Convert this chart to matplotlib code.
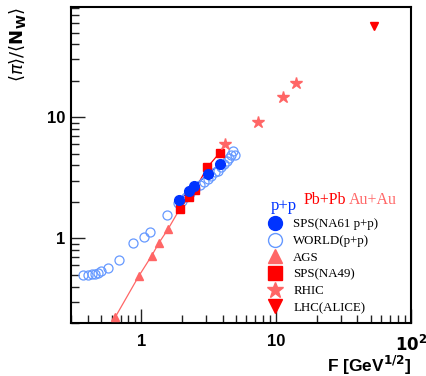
import matplotlib
matplotlib.use('Agg')
import matplotlib.pyplot as plt
from matplotlib.lines import Line2D
import matplotlib.ticker as ticker
from matplotlib.font_manager import FontProperties

# data: F [GeV^1/2] and <pi>/<N_W>
na61_F = [1.91, 2.24, 2.46, 3.11, 3.82]
na61_y = [2.06, 2.44, 2.70, 3.38, 4.14]

world_F = [0.371, 0.399, 0.427, 0.453, 0.479, 0.504, 0.565, 0.678, 0.862, 1.05, 1.15, 1.54,
           1.85, 2.0, 2.15, 2.3, 2.5, 2.7, 2.9, 3.1, 3.3, 3.5, 3.7, 3.9, 4.1, 4.3, 4.45, 4.6, 4.75, 4.9]
world_y = [0.50, 0.50, 0.504, 0.505, 0.517, 0.54, 0.568, 0.662, 0.91, 1.03, 1.13, 1.56,
           1.95, 2.05, 2.2, 2.35, 2.55, 2.75, 2.9, 3.1, 3.3, 3.5, 3.6, 3.85, 4.1, 4.35, 4.6, 4.9, 5.3, 4.85]

ags_F = [0.641, 0.955, 1.19, 1.35, 1.58]
ags_y = [0.225, 0.488, 0.718, 0.92, 1.20]

na49_F = [1.93, 2.25, 2.48, 3.08, 3.82]
na49_y = [1.76, 2.19, 2.50, 3.86, 5.11]

rhic_F = [4.14, 7.32, 11.2, 14.0]
rhic_y = [6.0, 9.15, 14.6, 19.0]

lhc_F = [52.8]
lhc_y = [56.9]

blue = '#0033ff'
lblue = '#6699ff'
salmon = '#ff6666'
red = '#ff0000'

plt.rcParams['mathtext.fontset'] = 'dejavusans'

fig = plt.figure(figsize=(4.26, 3.76), dpi=100)
ax = fig.add_axes([0.1667, 0.141, 0.7983, 0.840])

# lines first
ax.plot(ags_F + na49_F[:1], ags_y + na49_y[:1], '-', color=salmon, lw=0.9, zorder=2)
ax.plot(na49_F, na49_y, '-', color=red, lw=0.9, zorder=2)
ax.plot(na61_F, na61_y, '-', color=blue, lw=0.9, zorder=2)

ax.plot(world_F, world_y, 'o', mfc='none', mec=lblue, mew=0.9, ms=6.5, ls='none', zorder=3)
ax.plot(ags_F, ags_y, '^', color=salmon, ms=6, ls='none', zorder=4)
ax.plot(na49_F, na49_y, 's', color=red, ms=5.8, ls='none', zorder=4)
ax.plot(na61_F, na61_y, 'o', color=blue, ms=7, ls='none', zorder=5)
ax.plot(rhic_F, rhic_y, '*', color=salmon, ms=9, ls='none', zorder=4)
ax.plot(lhc_F, lhc_y, 'v', color=red, ms=6, ls='none', zorder=4)

ax.set_xscale('log')
ax.set_yscale('log')
ax.set_xlim(0.3, 100)
ax.set_ylim(0.2, 81)

tick_fp = FontProperties(family='Liberation Sans', weight='bold', size=12)
ax.xaxis.set_major_locator(ticker.FixedLocator([1, 10, 100]))
ax.xaxis.set_major_formatter(ticker.FixedFormatter(['1', '10', r'$\mathbf{10^2}$']))
ax.yaxis.set_major_locator(ticker.FixedLocator([1, 10]))
ax.yaxis.set_major_formatter(ticker.FixedFormatter(['1', '10']))
ax.xaxis.set_minor_locator(ticker.LogLocator(subs=range(2, 10), numticks=20))
ax.yaxis.set_minor_locator(ticker.LogLocator(subs=range(2, 10), numticks=20))
ax.xaxis.set_minor_formatter(ticker.NullFormatter())
ax.yaxis.set_minor_formatter(ticker.NullFormatter())
for lab in ax.get_xticklabels() + ax.get_yticklabels():
    lab.set_fontproperties(tick_fp)

ax.tick_params(which='both', direction='in', top=False, right=False, width=1.0, color='#222222')
ax.tick_params(which='major', length=10)
ax.tick_params(which='minor', length=6)
ax.tick_params(axis='x', which='major', pad=8)
ax.tick_params(axis='y', which='major', pad=4)
for s in ax.spines.values():
    s.set_linewidth(1.5)

ax.set_xlabel(r'F [GeV$^{\mathbf{1/2}}$]', family='Liberation Sans', weight='bold', fontsize=12.5,
              loc='right', labelpad=0)
ax.set_ylabel(r'$\langle\pi\rangle/\langle\mathbf{N}_{\mathbf{W}}\rangle$', fontsize=13,
              loc='top', labelpad=14)

# legend
handles = [
    Line2D([], [], marker='o', color=blue, ls='none', ms=10),
    Line2D([], [], marker='o', mfc='none', mec=lblue, mew=1.0, ls='none', ms=10),
    Line2D([], [], marker='^', color=salmon, ls='none', ms=10),
    Line2D([], [], marker='s', color=red, ls='none', ms=10),
    Line2D([], [], marker='*', color=salmon, ls='none', ms=12),
    Line2D([], [], marker='v', color=red, ls='none', ms=10),
]
labels = ['SPS(NA61 p+p)', 'WORLD(p+p)', 'AGS', 'SPS(NA49)', 'RHIC', 'LHC(ALICE)']
ax.legend(handles, labels, loc='upper left', bbox_to_anchor=(0.555, 0.36), frameon=False,
          prop=dict(family='Liberation Serif', size=9.3), handlelength=1.0, handletextpad=0.9,
          labelspacing=0.36, borderpad=0.2)
ax.text(0.588, 0.370, 'p+p', color=blue, family='Liberation Serif', fontsize=12,
        transform=ax.transAxes, va='center', ha='left')
ax.text(0.685, 0.389, 'Pb+Pb', color=red, family='Liberation Serif', fontsize=11.5,
        transform=ax.transAxes, va='center', ha='left')
ax.text(0.817, 0.389, 'Au+Au', color=salmon, family='Liberation Serif', fontsize=11.5,
        transform=ax.transAxes, va='center', ha='left')

fig.savefig('out.png', dpi=100)
